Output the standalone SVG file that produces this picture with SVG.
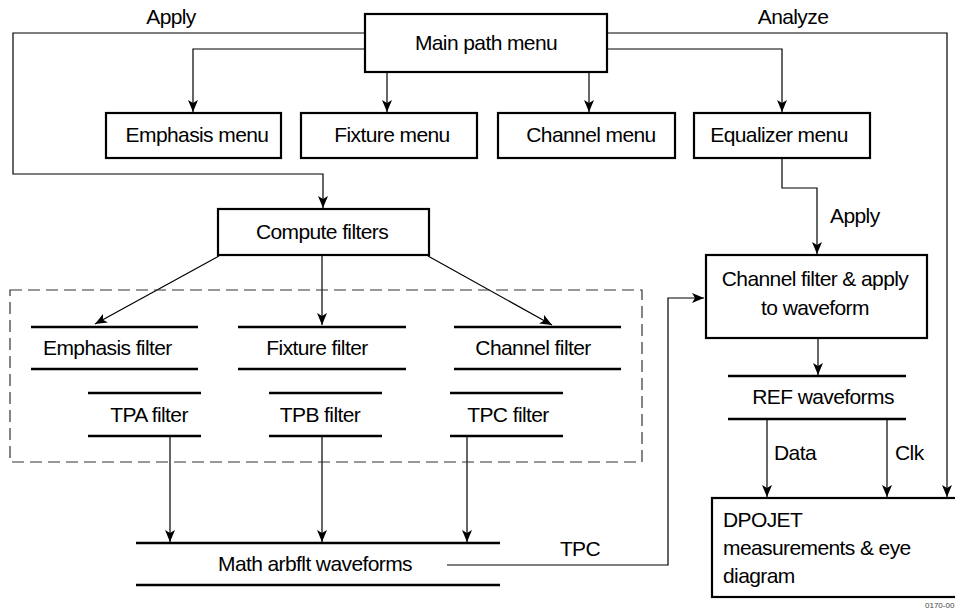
<svg xmlns="http://www.w3.org/2000/svg" width="955" height="615" viewBox="0 0 955 615">
<style>
text{font-family:"Liberation Sans",Arial,sans-serif;font-size:21px;letter-spacing:-0.6px;fill:#000}
.c{text-anchor:middle}
.box{fill:#fff;stroke:#000;stroke-width:2.2}
.bar{stroke:#000;stroke-width:2.4}
.con{fill:none;stroke:#000;stroke-width:1.2}
.arr{marker-end:url(#ah)}
.dash{fill:none;stroke:#333;stroke-width:1.2;stroke-dasharray:12 6}
</style>
<defs>
<marker id="ah" markerWidth="12" markerHeight="10" refX="12" refY="5" orient="auto" markerUnits="userSpaceOnUse">
<path d="M0,0 L12,5 L0,10 L3,5 z" fill="#000"/>
</marker>
</defs>
<rect x="0" y="0" width="955" height="615" fill="#fff"/>
<g id="connectors">
<path class="con arr" d="M365,33 H13 V174 H323 V208"/>
<path class="con arr" d="M365,49 H193 V112"/>
<path class="con arr" d="M387,72 V112"/>
<path class="con arr" d="M589,72 V112"/>
<path class="con arr" d="M607,49 H782 V112"/>
<path class="con arr" d="M607,33 H947 V497"/>
<path class="con arr" d="M782,158 V188 H817 V254"/>
<path class="con arr" d="M219,256 L95,324"/>
<path class="con arr" d="M322,256 V325"/>
<path class="con arr" d="M428,256 L552,325"/>
<path class="con arr" d="M170,436 V542"/>
<path class="con arr" d="M322,436 V542"/>
<path class="con arr" d="M467,436 V542"/>
<path class="con arr" d="M447,565 H668 V298 H704"/>
<path class="con arr" d="M818,338 V375"/>
<path class="con arr" d="M767,419 V497"/>
<path class="con arr" d="M887,419 V497"/>
<rect class="dash" x="10" y="290" width="632" height="172"/>
<text class="c" x="171" y="24">Apply</text>
<text class="c" x="793" y="24">Analyze</text>
<text x="830" y="223">Apply</text>
<text class="c" x="580" y="556">TPC</text>
<text x="774" y="460">Data</text>
<text x="895" y="460">Clk</text>
</g>
<g id="main-path-menu"><rect class="box" x="365" y="14" width="242" height="58"/><text class="c" x="486" y="50">Main path menu</text></g>
<g id="emphasis-menu"><rect class="box" x="106" y="113" width="175" height="45"/><text class="c" x="197" y="142">Emphasis menu</text></g>
<g id="fixture-menu"><rect class="box" x="301" y="113" width="176" height="45"/><text class="c" x="392" y="142">Fixture menu</text></g>
<g id="channel-menu"><rect class="box" x="498" y="113" width="177" height="45"/><text class="c" x="591" y="142">Channel menu</text></g>
<g id="equalizer-menu"><rect class="box" x="694" y="113" width="176" height="45"/><text class="c" x="779" y="142">Equalizer menu</text></g>
<g id="compute-filters"><rect class="box" x="218" y="209" width="211" height="46"/><text class="c" x="322" y="239">Compute filters</text></g>
<g id="emphasis-filter"><line class="bar" x1="31" y1="327" x2="198" y2="327"/><line class="bar" x1="31" y1="369" x2="198" y2="369"/><text x="43" y="355">Emphasis filter</text></g>
<g id="fixture-filter"><line class="bar" x1="238" y1="327" x2="406" y2="327"/><line class="bar" x1="238" y1="369" x2="406" y2="369"/><text class="c" x="317" y="355">Fixture filter</text></g>
<g id="channel-filter"><line class="bar" x1="454" y1="327" x2="621" y2="327"/><line class="bar" x1="454" y1="369" x2="621" y2="369"/><text class="c" x="533" y="355">Channel filter</text></g>
<g id="tpa-filter"><line class="bar" x1="88" y1="393" x2="201" y2="393"/><line class="bar" x1="88" y1="436" x2="201" y2="436"/><text class="c" x="149" y="422">TPA filter</text></g>
<g id="tpb-filter"><line class="bar" x1="269" y1="393" x2="382" y2="393"/><line class="bar" x1="269" y1="436" x2="382" y2="436"/><text class="c" x="320" y="422">TPB filter</text></g>
<g id="tpc-filter"><line class="bar" x1="450" y1="393" x2="563" y2="393"/><line class="bar" x1="450" y1="436" x2="563" y2="436"/><text class="c" x="508" y="422">TPC filter</text></g>
<g id="math-arbflt"><line class="bar" x1="136" y1="543" x2="500" y2="543"/><line class="bar" x1="136" y1="585" x2="500" y2="585"/><text class="c" x="315" y="571">Math arbflt waveforms</text></g>
<g id="channel-filter-apply"><rect class="box" x="706" y="255" width="221" height="83"/><text class="c" x="815" y="286">Channel filter &amp; apply</text><text class="c" x="815" y="315">to waveform</text></g>
<g id="ref-waveforms"><line class="bar" x1="728" y1="376" x2="906" y2="376"/><line class="bar" x1="728" y1="419" x2="906" y2="419"/><text class="c" x="823" y="404">REF waveforms</text></g>
<g id="dpojet"><rect class="box" x="712" y="498" width="250" height="99"/><text x="723" y="527">DPOJET</text><text x="723" y="555">measurements &amp; eye</text><text x="723" y="583">diagram</text></g>
<text x="925" y="608" style="font-size:8px;letter-spacing:0;fill:#444">0170-00</text>
</svg>
